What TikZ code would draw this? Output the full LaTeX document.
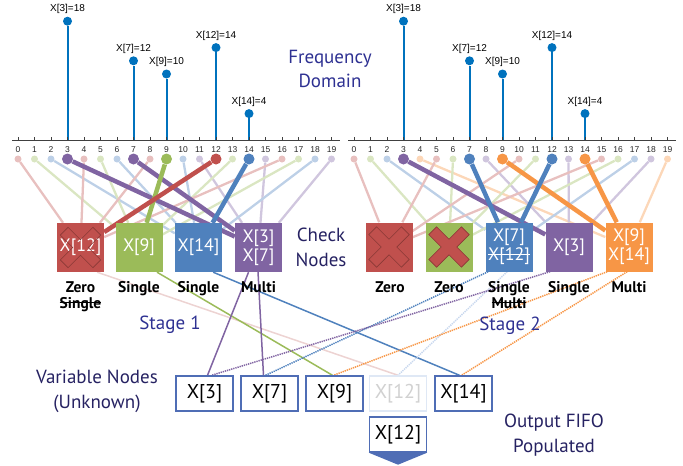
\documentclass[tikz,border=0pt]{standalone}
\usepackage{fontspec}
\setmainfont{PT Sans}
\newfontfamily\plotfont{Liberation Sans}
\usetikzlibrary{calc}
\pgfdeclarelayer{bg}
\pgfsetlayers{bg,main}

% node palette
\definecolor{col0}{HTML}{C0504D}
\definecolor{col1}{HTML}{9BBB59}
\definecolor{col2}{HTML}{4F81BD}
\definecolor{col3}{HTML}{8064A2}
\definecolor{col4}{HTML}{F79646}
\definecolor{lcol0}{HTML}{E8C0BF}
\definecolor{lcol1}{HTML}{DAE6C2}
\definecolor{lcol2}{HTML}{BDD0E7}
\definecolor{lcol3}{HTML}{D0C6DE}
\definecolor{lcol4}{HTML}{FCD7B8}
\definecolor{fadeRed}{HTML}{EDD3D2}
\definecolor{fadeBlue}{HTML}{C9D8EE}
\definecolor{stemBlue}{HTML}{0072BD}
\definecolor{navy}{HTML}{2E3192}
\definecolor{deepNavy}{HTML}{262262}
\definecolor{varBlue}{HTML}{4F6DB5}
\definecolor{crossRed}{HTML}{8A3936}
\definecolor{axisGray}{HTML}{404040}

\newcommand\cnFont{\fontsize{18}{19}\selectfont}
\newcommand\vnFont{\fontsize{20}{22}\selectfont}
\newcommand\kindFont{\bfseries\fontsize{15.5}{17}\selectfont}
\newcommand\capFont{\fontsize{19}{24.5}\selectfont}
% struck-out text: a rule laid across the word
\newcommand\strk[1]{{\setbox0=\hbox{#1}\rlap{\rule[0.3em]{\wd0}{1.1pt}}\box0}}

\begin{document}
\begin{tikzpicture}[x=1pt,y=-1pt,
  checkbox/.style={rectangle, inner sep=0pt, minimum width=47pt, minimum height=49pt,
    text=white, font=\cnFont, align=center},
  varbox/.style={rectangle, draw=varBlue, line width=1.4pt, fill=white, inner sep=0pt,
    minimum width=57pt, minimum height=35pt, font=\vnFont},
  smalldot/.style={circle, inner sep=0pt, minimum size=7pt},
  bigdot/.style={circle, inner sep=0pt, minimum size=11pt},
  stemdot/.style={circle, fill=stemBlue, inner sep=0pt, minimum size=9pt},
  stemline/.style={stemBlue, line width=2pt},
  thinlink/.style={line width=2.3pt},
  thicklink/.style={line width=4.5pt},
  solidlink/.style={line width=1.5pt},
  dotlink/.style={line width=1.5pt, dash pattern=on 1.3pt off 0.9pt},
  kind/.style={font=\kindFont, anchor=base},
  caption/.style={font=\capFont, align=center},
  ticklab/.style={font=\plotfont\fontsize{8.5}{10}\selectfont, text=black!85},
  stemlab/.style={font=\plotfont\fontsize{10}{12}\selectfont},
  axisline/.style={axisGray, line width=0.9pt},
  xcross/.pic={\path[pic actions] (0,0.34) -- (0.54,0.88) -- (0.88,0.54) -- (0.34,0)
      -- (0.88,-0.54) -- (0.54,-0.88) -- (0,-0.34) -- (-0.54,-0.88) -- (-0.88,-0.54)
      -- (-0.34,0) -- (-0.88,0.54) -- (-0.54,0.88) -- cycle;}
]
\useasboundingbox (0,0) rectangle (683,466);

% ---------- spectra ----------
\foreach \off/\s in {18/L, 354/R} {
  \draw[axisline] (\off-6,140) -- (\off+16.5*19+8,140);
  \foreach \i in {0,...,19} {
    \draw[axisline] (\off+16.5*\i,140) -- ++(0,-3);
    \node[ticklab] (t\s\i) at (\off+16.5*\i,150) {\i};
  }
  \foreach \i/\v in {3/18, 7/12, 9/10, 12/14, 14/4} {
    \node[stemdot] (s\s\i) at (\off+16.5*\i,140-6.6*\v) {};
    \begin{pgfonlayer}{bg}
      \draw[stemline] (\off+16.5*\i,140) -- (s\s\i);
    \end{pgfonlayer}
    \node[stemlab] (k\s\i) at ($(s\s\i)+(0,-12)$) {X[\i]=\v};
  }
}

% ---------- check nodes ----------
\node[checkbox, fill=col0] (cL0) at (80.5,247.5) {X[12]};
\node[checkbox, fill=col1] (cL1) at (139,247.5) {X[9]};
\node[checkbox, fill=col2] (cL2) at (198.5,247.5) {X[14]};
\node[checkbox, fill=col3] (cL3) at (258.5,247.5) {X[3]\\X[7]};
\pic[draw=crossRed, line width=0.6pt, scale=23] at (cL0) {xcross};

\node[checkbox, fill=col0] (cR0) at (389,247) {};
\node[checkbox, fill=col1] (cR1) at (449,247) {};
\node[checkbox, fill=col2] (cR2) at (509,247) {X[7]\\\strk{X[12]}};
\node[checkbox, fill=col3] (cR3) at (569,247) {X[3]};
\node[checkbox, fill=col4] (cR4) at (629,247) {X[9]\\X[14]};
\pic[draw=crossRed, line width=0.6pt, scale=23] at (cR0) {xcross};
\pic[draw=crossRed, fill=col0, line width=0.6pt, scale=23] at (cR1) {xcross};

% ---------- bins to check nodes ----------
\foreach \i in {0,1,2,4,5,6,8,10,11,13,15,16,17,18,19} {
  \pgfmathtruncatemacro\c{mod(\i,4)}
  \node[smalldot, fill=lcol\c] (dL\i) at (18+16.5*\i,159) {};
  \begin{pgfonlayer}{bg}\draw[thinlink, lcol\c] (dL\i) -- (cL\c);\end{pgfonlayer}
  \pgfmathtruncatemacro\c{mod(\i,5)}
  \node[smalldot, fill=lcol\c] (dR\i) at (354+16.5*\i,159) {};
  \begin{pgfonlayer}{bg}\draw[thinlink, lcol\c] (dR\i) -- (cR\c);\end{pgfonlayer}
}
\foreach \i in {3,7,9,12,14} {
  \pgfmathtruncatemacro\c{mod(\i,4)}
  \node[bigdot, fill=col\c] (dL\i) at (18+16.5*\i,159) {};
  \begin{pgfonlayer}{bg}\draw[thicklink, col\c] (dL\i) -- (cL\c);\end{pgfonlayer}
  \pgfmathtruncatemacro\c{mod(\i,5)}
  \node[bigdot, fill=col\c] (dR\i) at (354+16.5*\i,159) {};
  \begin{pgfonlayer}{bg}\draw[thicklink, col\c] (dR\i) -- (cR\c);\end{pgfonlayer}
}

% ---------- check node states ----------
\node[kind] (zL0) at (80.5,292) {Zero};
\node[kind] (zL0b) at (80.5,308) {\strk{Single}};
\node[kind] (zL1) at (139,292) {Single};
\node[kind] (zL2) at (198.5,292) {Single};
\node[kind] (zL3) at (258.5,292) {Multi};
\node[kind] (zR0) at (390,292) {Zero};
\node[kind] (zR1) at (449,292) {Zero};
\node[kind] (zR2) at (509,292) {Single};
\node[kind] (zR2b) at (509,308) {\strk{Multi}};
\node[kind] (zR3) at (569,292) {Single};
\node[kind] (zR4) at (629,292) {Multi};

% ---------- variable nodes ----------
\node[varbox] (v3) at (204.5,393.5) {X[3]};
\node[varbox] (v7) at (269.5,393.5) {X[7]};
\node[varbox] (v9) at (334.5,393.5) {X[9]};
\node[varbox, draw=fadeBlue!60, text=black!18] (v12) at (398,393.5) {X[12]};
\node[varbox] (v14) at (463.5,393.5) {X[14]};

\node[varbox] (fifo) at (398,434.5) {X[12]};
\fill[varBlue] (fifo.south west) -- (fifo.south east) -- ($(fifo.south)+(0,12)$) -- cycle;

% ---------- check nodes to variable nodes ----------
\begin{pgfonlayer}{bg}
  \draw[solidlink, fadeRed] ($(cL0.south west)!0.85!(cL0.south east)$) -- (v12.north);
  \draw[solidlink, col1] ($(cL1.south west)!0.88!(cL1.south east)$) -- ($(v9.north)+(-2,0)$);
  \draw[solidlink, col2] ($(cL2.south west)!0.81!(cL2.south east)$) -- ($(v14.north)+(-4,0)$);
  \draw[solidlink, col3] ($(cL3.south west)!0.29!(cL3.south east)$) -- ($(v3.north)+(3,0)$);
  \draw[solidlink, col3] ($(cL3.south west)!0.49!(cL3.south east)$) -- ($(v7.north)+(-6,0)$);
  \draw[dotlink, col2] ($(cR2.south west)!0.06!(cR2.south east)$) -- ($(v7.north)+(-4,0)$);
  \draw[dotlink, fadeBlue] ($(cR2.south west)!0.46!(cR2.south east)$) -- (v12.north);
  \draw[dotlink, col3] ($(cR3.south west)!0.1!(cR3.south east)$) -- ($(v3.north)+(7,0)$);
  \draw[dotlink, col4] ($(cR4.south west)!0.04!(cR4.south east)$) -- ($(v9.north)+(-1,0)$);
  \draw[dotlink, col4] ($(cR4.south west)!0.46!(cR4.south east)$) -- ($(v14.north)+(-2,0)$);
\end{pgfonlayer}

% ---------- captions ----------
\node[caption, text=navy] (freq) at (330,69) {Frequency\\Domain};
\node[caption, text=deepNavy] (chk) at (321,247.5) {Check\\Nodes};
\node[caption, text=navy] (st1) at (170,325) {Stage 1};
\node[caption, text=navy] (st2) at (510,326) {Stage 2};
\node[caption, text=deepNavy] (varcap) at (97,391.5) {Variable Nodes\\(Unknown)};
\node[caption, text=deepNavy] (fifocap) at (554,435) {Output FIFO\\Populated};
\end{tikzpicture}
\end{document}
